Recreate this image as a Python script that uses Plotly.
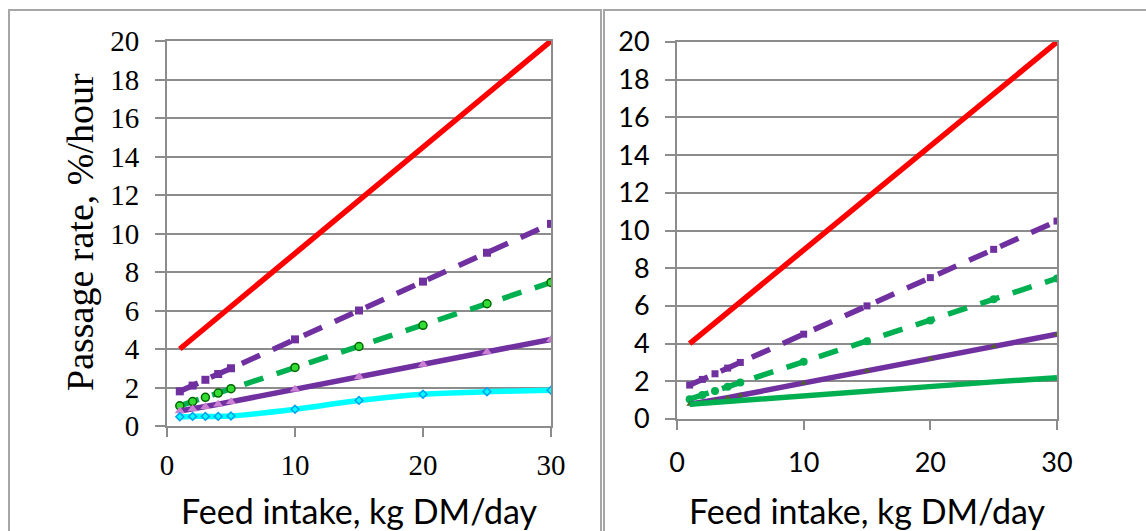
import plotly.graph_objects as go

# ---------------- data ----------------
x_pts = [1, 2, 3, 4, 5, 10, 15, 20, 25, 30]
x_red = [1, 30]
red_vals = [4, 20]
purple_dash_vals = [1.8, 2.1, 2.4, 2.7, 3.0, 4.5, 6.0, 7.5, 9.0, 10.5]
green_dash_vals = [1.05, 1.27, 1.49, 1.71, 1.94, 3.04, 4.13, 5.23, 6.35, 7.46]
purple_solid_vals = [0.78, 0.88, 1.0, 1.13, 1.26, 1.91, 2.56, 3.2, 3.84, 4.5]
cyan_vals = [0.48, 0.5, 0.5, 0.5, 0.52, 0.87, 1.33, 1.65, 1.78, 1.86]
green_solid_vals = [0.78, 0.83, 0.88, 0.93, 0.98, 1.26, 1.51, 1.75, 1.97, 2.19]

x_ticks = [0, 10, 20, 30]
y_ticks = [0, 2, 4, 6, 8, 10, 12, 14, 16, 18, 20]
x_title = "Feed intake, kg DM/day"
y_title = "Passage rate, %/hour"

RED = "#ff0000"
PURPLE = "#7030a0"
GREEN = "#00b050"
CYAN = "#00ffff"
GRID = "#8c8c8c"
W, H = 1146, 531
LW = 5.5
DASH = "20px,14px"

fig = go.Figure()

# ---------- left panel ----------
L = dict(xaxis="x", yaxis="y", showlegend=False, hoverinfo="skip")
fig.add_trace(go.Scatter(x=x_red, y=red_vals, mode="lines",
                         line=dict(color=RED, width=LW), **L))
fig.add_trace(go.Scatter(x=x_pts, y=purple_dash_vals, mode="lines+markers",
                         line=dict(color=PURPLE, width=LW, dash=DASH),
                         marker=dict(symbol="square", size=8, color=PURPLE), **L))
fig.add_trace(go.Scatter(x=x_pts, y=green_dash_vals, mode="lines+markers",
                         line=dict(color=GREEN, width=LW, dash=DASH),
                         marker=dict(symbol="circle", size=8, color="#33dd33",
                                     line=dict(color="#006600", width=1.5)), **L))
fig.add_trace(go.Scatter(x=x_pts, y=purple_solid_vals, mode="lines+markers",
                         line=dict(color=PURPLE, width=LW),
                         marker=dict(symbol="triangle-up", size=9, color="#cc80d4"), **L))
fig.add_trace(go.Scatter(x=x_pts, y=cyan_vals, mode="lines+markers",
                         line=dict(color=CYAN, width=LW, shape="spline"),
                         marker=dict(symbol="diamond", size=6, color=CYAN,
                                     line=dict(color="#00a0f0", width=1.5)), **L))

# ---------- right panel ----------
R = dict(xaxis="x2", yaxis="y2", showlegend=False, hoverinfo="skip")
fig.add_trace(go.Scatter(x=x_red, y=red_vals, mode="lines",
                         line=dict(color=RED, width=LW), **R))
fig.add_trace(go.Scatter(x=x_pts, y=purple_dash_vals, mode="lines+markers",
                         line=dict(color=PURPLE, width=LW, dash=DASH),
                         marker=dict(symbol="square", size=7, color=PURPLE), **R))
fig.add_trace(go.Scatter(x=x_pts, y=green_dash_vals, mode="lines+markers",
                         line=dict(color=GREEN, width=LW, dash=DASH),
                         marker=dict(symbol="circle", size=8, color=GREEN), **R))
fig.add_trace(go.Scatter(x=x_pts, y=purple_solid_vals, mode="lines+markers",
                         line=dict(color=PURPLE, width=LW),
                         marker=dict(symbol="triangle-up", size=6, color="#4f6228"), **R))
fig.add_trace(go.Scatter(x=x_pts, y=green_solid_vals, mode="lines",
                         line=dict(color=GREEN, width=LW), **R))

serif = "Liberation Serif"
sans = "Lato"

def xax(domain, font, standoff):
    return dict(domain=domain, range=[0, 30], tickvals=x_ticks, showgrid=False,
                showline=True, linecolor=GRID, linewidth=2, mirror=True,
                ticks="outside", ticklen=9, tickwidth=2, tickcolor=GRID,
                tickfont=font, ticklabelstandoff=standoff, zeroline=False,
                fixedrange=True, automargin=False)

def yax(domain, font, anchor, standoff):
    return dict(domain=domain, range=[0, 20], tickvals=y_ticks, showgrid=True,
                gridcolor=GRID, gridwidth=2, showline=True, linecolor=GRID,
                linewidth=2, mirror=True, ticks="outside", ticklen=10, tickwidth=2,
                tickcolor=GRID, tickfont=font, anchor=anchor,
                ticklabelstandoff=standoff, zeroline=False, fixedrange=True,
                automargin=False)

fig.update_layout(
    width=W, height=H,
    margin=dict(l=0, r=0, t=0, b=0, pad=0, autoexpand=False),
    paper_bgcolor="white", plot_bgcolor="white",
    xaxis=xax([167 / W, 551 / W], dict(family=serif, size=29, color="black"), 3),
    yaxis=yax([1 - 426 / H, 1 - 41 / H], dict(family=serif, size=29, color="black"), "x", 10),
    xaxis2=dict(xax([677 / W, 1057 / W], dict(family=sans, size=27, color="black"), 10), anchor="y2"),
    yaxis2=yax([1 - 419 / H, 1 - 42 / H], dict(family=sans, size=27, color="black"), "x2", 10),
    annotations=[
        dict(text=y_title, xref="paper", yref="paper", x=80 / W, y=1 - 232 / H,
             textangle=-90, showarrow=False, xanchor="center", yanchor="middle",
             font=dict(family=serif, size=38, color="black")),
        dict(text=x_title, xref="paper", yref="paper", x=359 / W, y=1 - 510 / H,
             showarrow=False, xanchor="center", yanchor="middle",
             font=dict(family=sans, size=34, color="black")),
        dict(text=x_title, xref="paper", yref="paper", x=867 / W, y=1 - 510 / H,
             showarrow=False, xanchor="center", yanchor="middle",
             font=dict(family=sans, size=34, color="black")),
    ],
    shapes=[
        dict(type="rect", xref="paper", yref="paper", x0=9 / W, x1=601 / W,
             y0=-0.05, y1=1 - 10 / H, line=dict(color="#a6a6a6", width=2)),
        dict(type="rect", xref="paper", yref="paper", x0=604 / W, x1=1.05,
             y0=-0.05, y1=1 - 10 / H, line=dict(color="#a6a6a6", width=2)),
    ],
)

fig.write_html("out.html", config={"displayModeBar": False},
               post_script="document.body.style.margin='0';document.body.style.overflow='hidden';")
